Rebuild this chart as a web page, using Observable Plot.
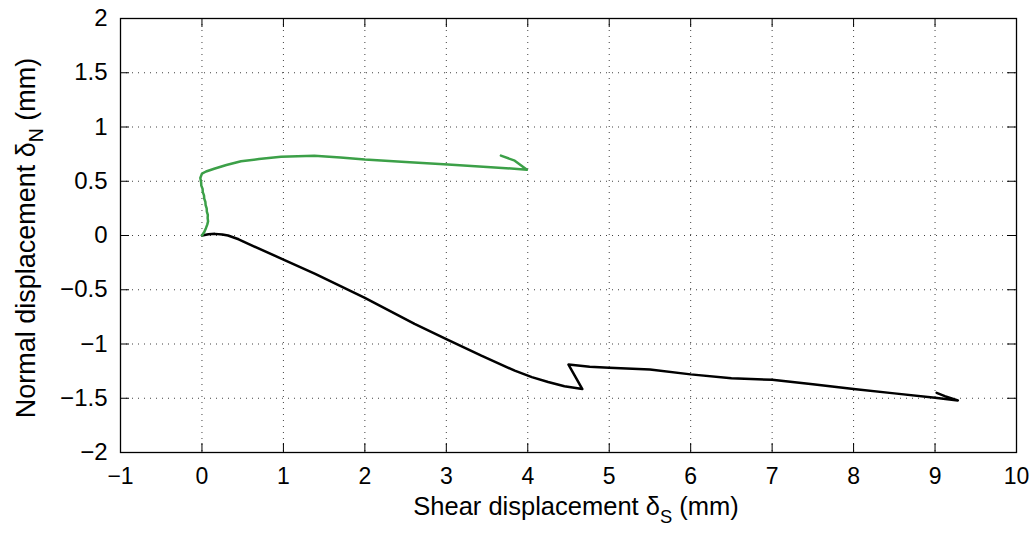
<!DOCTYPE html>
<html><head><meta charset="utf-8">
<script src="https://cdn.jsdelivr.net/npm/d3@7"></script>
<script src="https://cdn.jsdelivr.net/npm/@observablehq/plot@0.6"></script>
<style>body{margin:0;background:#fff} svg{display:block}</style>
</head><body><div id="chart"></div>
<script>
const greenX = [0, 0.03, 0.05, 0.065, 0.075, 0.07, 0.072, 0.06, 0.058, 0.045, 0.042, 0.028, 0.025, 0.01, 0.008, -0.008, -0.01, -0.02, 0.0, 0.05, 0.15, 0.3, 0.48, 0.7, 0.97, 1.38, 1.7, 2.0, 2.5, 3.02, 3.5, 3.99, 3.84, 3.67];
const greenY = [0, 0.035, 0.07, 0.1, 0.13, 0.16, 0.19, 0.22, 0.25, 0.28, 0.31, 0.34, 0.37, 0.4, 0.43, 0.46, 0.49, 0.53, 0.57, 0.59, 0.615, 0.65, 0.684, 0.705, 0.725, 0.735, 0.72, 0.7, 0.678, 0.655, 0.632, 0.607, 0.69, 0.736];
const blackX = [0, 0.08, 0.16, 0.25, 0.32, 0.45, 0.57, 0.98, 1.39, 2.0, 2.61, 3.0, 3.43, 3.84, 4.05, 4.25, 4.45, 4.67, 4.5, 4.76, 5.0, 5.5, 6.0, 6.5, 7.0, 7.5, 8.0, 8.5, 9.0, 9.28, 9.12, 9.02];
const blackY = [0, 0.012, 0.015, 0.01, 0, -0.035, -0.077, -0.215, -0.354, -0.575, -0.815, -0.954, -1.108, -1.246, -1.305, -1.35, -1.39, -1.415, -1.19, -1.21, -1.22, -1.235, -1.28, -1.315, -1.33, -1.37, -1.415, -1.455, -1.495, -1.52, -1.48, -1.45];
const xTicks = [-1, 0, 1, 2, 3, 4, 5, 6, 7, 8, 9, 10];
const yTicks = [-2, -1.5, -1, -0.5, 0, 0.5, 1, 1.5, 2];
const xLabel = ["Shear displacement δ", "S", " (mm)"];
const yLabel = ["Normal displacement δ", "N", " (mm)"];

const green = greenX.map((x, i) => ({x, y: greenY[i]}));
const black = blackX.map((x, i) => ({x, y: blackY[i]}));
const fmt = d => d < 0 ? "\u2212" + Math.abs(d) : String(d);

const W = 1035, H = 533, mL = 120, mR = 19, mT = 18, mB = 81;
const pw = W - mL - mR, ph = H - mT - mB, tl = 9;

const plot = Plot.plot({
  width: W, height: H,
  marginLeft: mL, marginRight: mR, marginTop: mT, marginBottom: mB,
  x: {domain: [-1, 10], axis: null},
  y: {domain: [-2, 2], axis: null},
  style: {fontFamily: "'Liberation Sans', Arial, Helvetica, sans-serif", fontSize: "24px", color: "#000", background: "#fff"},
  marks: [
    Plot.gridX(xTicks, {stroke: "#000", strokeOpacity: 0.75, strokeDasharray: "1,5"}),
    Plot.gridY(yTicks, {stroke: "#000", strokeOpacity: 0.75, strokeDasharray: "1,5"}),
    Plot.line(black, {x: "x", y: "y", stroke: "#000", strokeWidth: 2.5, strokeLinejoin: "round"}),
    Plot.line(green, {x: "x", y: "y", stroke: "#3ca048", strokeWidth: 2.5, strokeLinejoin: "round"}),
    Plot.tickX(xTicks, {x: d => d, insetTop: ph - tl, stroke: "#000"}),
    Plot.tickX(xTicks, {x: d => d, insetBottom: ph - tl, stroke: "#000"}),
    Plot.tickY(yTicks, {y: d => d, insetRight: pw - tl, stroke: "#000"}),
    Plot.tickY(yTicks, {y: d => d, insetLeft: pw - tl, stroke: "#000"}),
    Plot.frame({stroke: "#000", strokeWidth: 1.3}),
    Plot.axisX(xTicks, {tickSize: 0, tickPadding: 15, tickFormat: fmt, label: null, fontSize: 23}),
    Plot.axisY(yTicks, {tickSize: 0, tickPadding: 13, tickFormat: fmt, label: null, fontSize: 24})
  ]
});
document.getElementById("chart").appendChild(plot);

const svg = d3.select(plot);
function addLabel(parts, transform, size) {
  const t = svg.append("text")
    .attr("transform", transform)
    .attr("text-anchor", "middle")
    .attr("font-size", size)
    .attr("fill", "#000");
  t.append("tspan").text(parts[0]);
  t.append("tspan").attr("font-size", size * 0.72).attr("dy", 8).text(parts[1]);
  t.append("tspan").attr("dy", -8).text(parts[2]);
}
addLabel(xLabel, `translate(${mL + pw / 2 + 8},515)`, 25.5);
addLabel(yLabel, `translate(35,238) rotate(-90)`, 27);
</script>
</body></html>
